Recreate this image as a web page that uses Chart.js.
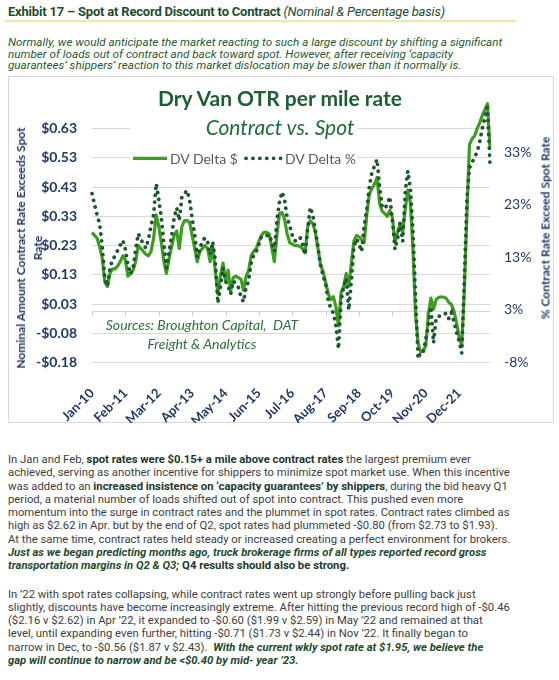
<!DOCTYPE html>
<html>
<head>
<meta charset="utf-8">
<title>Spot at Record Discount to Contract</title>
<script src="https://cdn.jsdelivr.net/npm/chart.js@4.4.0/dist/chart.umd.min.js"></script>
<style>
  html, body { margin: 0; padding: 0; background: #fff; }
  body { width: 559px; height: 680px; position: relative; overflow: hidden; font-family: Roboto, sans-serif; }
  .abs { position: absolute; white-space: nowrap; }
  #hdr { left: 8px; top: 4px; font-size: 13px; line-height: 15px; font-weight: 700; color: #1d4d2c; letter-spacing: -0.2px; }
  #hdr i { font-weight: 400; }
  #rule { left: 5px; top: 20px; width: 511px; height: 2px; background: #f4e3aa; }
  #intro { left: 8px; top: 37px; font-size: 11.7px; line-height: 11.6px; font-style: italic; color: #1f5a30; }
  #frame { left: 8px; top: 76px; width: 546px; height: 347px; border: 1px solid #d9d9d9; box-sizing: border-box; }
  #wrap { position: absolute; left: 8px; top: 76px; width: 546px; height: 347px; }
  .chart-t { font-family: Lato, sans-serif; }
  #mask { left: 130px; top: 110px; width: 228px; height: 58px; background: #fff; }
  #title { left: 280px; top: 85px; transform: translateX(-50%); font-size: 21px; line-height: 25px; font-weight: 700; color: #1f5c35; }
  #subtitle { left: 280px; top: 114px; transform: translateX(-50%); font-size: 21px; line-height: 25px; font-style: italic; color: #1f6b3b; }
  .leg-t { top: 150px; font-size: 14px; line-height: 17px; color: #595959; }
  #src { left: 95px; top: 315px; width: 214px; text-align: center; font-size: 14px; line-height: 19px; font-style: italic; color: #2e6e3e; }
  .ax-t { font-size: 12px; line-height: 17px; font-weight: 700; color: #1f3864; text-align: center; transform: translate(-50%, -50%) rotate(-90deg); }
  .body-p { left: 8px; font-size: 11.3px; line-height: 13.3px; color: #3d3d3d; }
  .body-p b { color: #22372a; }
  .body-p .bi { font-weight: 700; font-style: italic; color: #1f4a2b; }
</style>
</head>
<body>
<div id="hdr" class="abs">Exhibit 17 – Spot at Record Discount to Contract <i>(Nominal &amp; Percentage basis)</i></div>
<div id="rule" class="abs"></div>
<div id="intro" class="abs">Normally, we would anticipate the market reacting to such a large discount by shifting a significant<br>number of loads out of contract and back toward spot. However, after receiving ‘capacity<br>guarantees’ shippers’ reaction to this market dislocation may be slower than it normally is.</div>

<div id="frame" class="abs"></div>
<div id="wrap"><canvas id="deltaChart"></canvas></div>

<div id="mask" class="abs"></div>
<div id="title" class="abs chart-t">Dry Van OTR per mile rate</div>
<div id="subtitle" class="abs chart-t">Contract vs. Spot</div>
<svg class="abs" style="left:130px;top:150px" width="160" height="16">
  <line x1="3" y1="8.3" x2="37" y2="8.3" stroke="#3e9c22" stroke-width="3.2"/>
  <line x1="116" y1="8.3" x2="152" y2="8.3" stroke="#1f5632" stroke-width="3.8" stroke-dasharray="0.1 6.8" stroke-linecap="round"/>
</svg>
<div class="abs chart-t leg-t" style="left:170px">DV Delta $</div>
<div class="abs chart-t leg-t" style="left:285px">DV Delta %</div>
<div id="src" class="abs chart-t">Sources: Broughton Capital,&nbsp; DAT<br>Freight &amp; Analytics</div>
<div class="abs chart-t ax-t" style="left:28.5px;top:248px">Nominal Amount Contract Rate Exceeds Spot<br>Rate</div>
<div class="abs chart-t ax-t" style="left:545px;top:228px">% Contract Rate Exceed Spot Rate</div>

<div class="abs body-p" style="top:453px">In Jan and Feb, <b>spot rates were $0.15+ a mile above contract rates</b> the largest premium ever<br>achieved, serving as another incentive for shippers to minimize spot market use. When this incentive<br>was added to an <b>increased insistence on ‘capacity guarantees’ by shippers</b>, during the bid heavy Q1<br>period, a material number of loads shifted out of spot into contract. This pushed even more<br>momentum into the surge in contract rates and the plummet in spot rates. Contract rates climbed as<br>high as $2.62 in Apr. but by the end of Q2, spot rates had plummeted -$0.80 (from $2.73 to $1.93).<br>At the same time, contract rates held steady or increased creating a perfect environment for brokers.<br><span class="bi">Just as we began predicting months ago, truck brokerage firms of all types reported record gross</span><br><span class="bi">transportation margins in Q2 &amp; Q3;</span> <b>Q4 results should also be strong.</b></div>

<div class="abs body-p" style="top:587.5px">In ’22 with spot rates collapsing, while contract rates went up strongly before pulling back just<br>slightly, discounts have become increasingly extreme. After hitting the previous record high of -$0.46<br>($2.16 v $2.62) in Apr ’22, it expanded to -$0.60 ($1.99 v $2.59) in May ’22 and remained at that<br>level, until expanding even further, hitting -$0.71 ($1.73 v $2.44) in Nov ’22. It finally began to<br>narrow in Dec, to -$0.56 ($1.87 v $2.43).&nbsp; <span class="bi">With the current wkly spot rate at $1.95, we believe the</span><br><span class="bi">gap will continue to narrow and be &lt;$0.40 by mid- year ’23.</span></div>

<script>
// monthly categories Jan-10 .. Dec-22
const monthNames = ['Jan', 'Feb', 'Mar', 'Apr', 'May', 'Jun', 'Jul', 'Aug', 'Sep', 'Oct', 'Nov', 'Dec'];
const yearSuffixes = ['10', '11', '12', '13', '14', '15', '16', '17', '18', '19', '20', '21', '22'];
const categories = [];
yearSuffixes.forEach(yy => monthNames.forEach(m => categories.push(m + '-' + yy)));

// labels shown on the category axis
const tickLabels = ['Jan-10', 'Feb-11', 'Mar-12', 'Apr-13', 'May-14', 'Jun-15', 'Jul-16', 'Aug-17', 'Sep-18', 'Oct-19', 'Nov-20', 'Dec-21'];

// DV Delta $ : contract minus spot, $ per mile
const dollarDelta = [
  0.27, 0.26, 0.25, 0.22, 0.18, 0.10, 0.085, 0.13, 0.145, 0.145, 0.155, 0.17,
  0.19, 0.175, 0.12, 0.13, 0.14, 0.17, 0.225, 0.215, 0.205, 0.195, 0.19, 0.205,
  0.25, 0.33, 0.29, 0.235, 0.17, 0.13, 0.18, 0.22, 0.26, 0.275, 0.215, 0.29,
  0.31, 0.31, 0.305, 0.26, 0.215, 0.17, 0.205, 0.215, 0.225, 0.215, 0.17, 0.225,
  0.14, 0.06, 0.12, 0.165, 0.105, 0.14, 0.07, 0.115, 0.12, 0.115, 0.11, 0.072,
  0.12, 0.14, 0.19, 0.205, 0.215, 0.24, 0.26, 0.27, 0.27, 0.265, 0.22, 0.17,
  0.26, 0.335, 0.338, 0.315, 0.265, 0.235, 0.23, 0.225, 0.225, 0.222, 0.215, 0.20,
  0.29, 0.31, 0.30, 0.27, 0.215, 0.16, 0.135, 0.10, 0.06, 0.04, 0.05, 0.015,
  -0.05, 0.065, 0.085, 0.13, 0.085, 0.165, 0.24, 0.26, 0.255, 0.245, 0.235, 0.33,
  0.40, 0.42, 0.435, 0.458, 0.37, 0.342, 0.335, 0.325, 0.345, 0.32, 0.235, 0.27,
  0.30, 0.27, 0.35, 0.415, 0.37, 0.21, -0.01, -0.11, -0.14, -0.133, -0.118, -0.01,
  0.045, 0.008, 0.04, 0.048, 0.049, 0.049, 0.044, 0.03, 0.023, 0.0, -0.04, -0.09,
  -0.117, 0.07, 0.33, 0.57, 0.59, 0.60, 0.625, 0.645, 0.67, 0.69, 0.71, 0.56
];

// DV Delta % : contract over spot, percent
const percentDelta = [
  24.6, 22.5, 20.5, 18.8, 14.5, 8.5, 7.0, 10.5, 12.0, 12.8, 13.8, 14.8,
  15.7, 14.0, 11.0, 9.3, 10.5, 14.0, 17.0, 16.0, 15.0, 14.2, 16.0, 18.5,
  20.5, 26.5, 23.5, 20.0, 15.0, 10.5, 13.5, 16.5, 20.0, 21.9, 19.5, 24.0,
  24.6, 25.2, 23.4, 20.0, 16.8, 12.5, 14.2, 15.5, 16.2, 15.5, 13.0, 15.5,
  12.0, 3.8, 6.8, 10.5, 8.0, 7.0, 5.5, 8.0, 7.5, 6.8, 5.0, 4.0,
  6.8, 8.0, 11.5, 13.0, 13.6, 15.0, 16.4, 16.6, 16.6, 16.8, 15.4, 13.6,
  19.5, 23.0, 24.9, 23.4, 20.0, 18.5, 16.6, 15.6, 15.8, 16.3, 15.0, 13.0,
  18.0, 22.0, 20.5, 17.5, 14.5, 11.0, 9.0, 7.4, 4.3, 2.8, 1.9, -0.5,
  -4.9, 4.3, 6.8, 8.5, 2.5, 8.0, 14.5, 16.0, 15.0, 13.6, 18.5, 21.5,
  26.0, 28.6, 29.8, 31.1, 26.0, 22.0, 21.8, 22.5, 24.0, 19.5, 14.0, 16.0,
  19.1, 15.5, 25.0, 28.9, 25.5, 17.5, 5.0, -6.8, -5.5, -5.5, -3.0, -0.6,
  3.1, -3.8, 1.0, 1.3, 1.3, 1.6, 1.9, 0.8, 1.9, 0.2, -1.8, -3.5,
  -5.7, 8.0, 23.5, 29.5, 30.5, 31.5, 32.5, 34.5, 37.0, 39.0, 41.0, 30.2
];

// axis ticks
const dollarTicks = [-0.175, -0.075, 0.025, 0.125, 0.225, 0.325, 0.425, 0.525, 0.625];
const dollarTickLabels = ['-$0.18', '-$0.08', '$0.03', '$0.13', '$0.23', '$0.33', '$0.43', '$0.53', '$0.63'];
const percentTicks = [-7.5, 2.5, 12.5, 22.5, 32.5];
const percentTickLabels = ['-8%', '3%', '13%', '23%', '33%'];

const navy = '#1f3864';
Chart.defaults.font.family = 'Lato, sans-serif';

// horizontal category axis sits at $0, with small tick marks
const zeroAxis = {
  id: 'zeroAxis',
  beforeDatasetsDraw(chart) {
    const { ctx, chartArea, scales } = chart;
    const y0 = scales.y.getPixelForValue(0);
    ctx.save();
    ctx.strokeStyle = '#cfcfcf';
    ctx.lineWidth = 1;
    ctx.beginPath();
    ctx.moveTo(chartArea.left, y0);
    ctx.lineTo(chartArea.right, y0);
    scales.x.ticks.forEach((t, i) => {
      const px = Math.round(scales.x.getPixelForTick(i)) + 0.5;
      ctx.moveTo(px, y0);
      ctx.lineTo(px, y0 + 5);
    });
    ctx.stroke();
    ctx.restore();
  }
};

new Chart(document.getElementById('deltaChart').getContext('2d'), {
  type: 'line',
  data: {
    labels: categories,
    datasets: [
      {
        label: 'DV Delta %',
        data: percentDelta,
        yAxisID: 'y2',
        borderColor: '#1f5632',
        borderWidth: 3.8,
        borderDash: [0.1, 6.8],
        borderCapStyle: 'round',
        pointRadius: 0,
        tension: 0,
        order: 0
      },
      {
        label: 'DV Delta $',
        data: dollarDelta,
        yAxisID: 'y',
        borderColor: '#3e9c22',
        borderWidth: 3.2,
        borderJoinStyle: 'round',
        pointRadius: 0,
        tension: 0,
        order: 1
      }
    ]
  },
  options: {
    responsive: true,
    maintainAspectRatio: false,
    animation: false,
    layout: { padding: { top: 15.3, left: 0, right: 0, bottom: 0 } },
    plugins: {
      legend: { display: false },
      tooltip: { enabled: false },
      title: { display: false }
    },
    scales: {
      x: {
        type: 'category',
        grid: { display: false, drawTicks: false },
        border: { display: false },
        ticks: {
          autoSkip: false,
          minRotation: 45,
          maxRotation: 45,
          padding: 23,
          color: navy,
          font: { size: 13, weight: 'bold' }
        },
        afterBuildTicks: s => { s.ticks = s.ticks.filter(t => tickLabels.includes(categories[t.value])); },
        afterFit: s => { s.height = 60.5; }
      },
      y: {
        position: 'left',
        min: -0.175,
        max: 0.725,
        bounds: 'data',
        grid: { color: '#d9d9d9', lineWidth: 1, drawTicks: false },
        border: { display: false },
        ticks: {
          padding: 15,
          color: navy,
          font: { size: 14, weight: 'bold' },
          callback: (v, i) => dollarTickLabels[i]
        },
        afterBuildTicks: s => { s.ticks = dollarTicks.map(v => ({ value: v })); },
        afterFit: s => { s.width = 84; }
      },
      y2: {
        position: 'right',
        min: -7.5,
        max: 42.5,
        bounds: 'data',
        grid: { display: false, drawTicks: false },
        border: { display: false },
        ticks: {
          padding: 14,
          color: navy,
          font: { size: 14 },
          callback: (v, i) => percentTickLabels[i]
        },
        afterBuildTicks: s => { s.ticks = percentTicks.map(v => ({ value: v })); },
        afterFit: s => { s.width = 64; }
      }
    }
  },
  plugins: [zeroAxis]
});
</script>
</body>
</html>
